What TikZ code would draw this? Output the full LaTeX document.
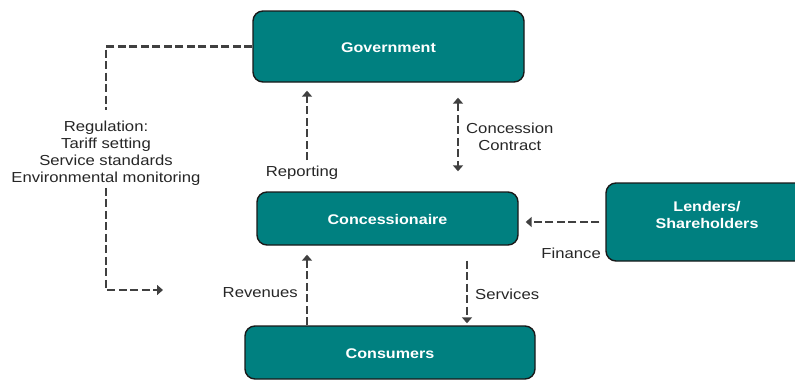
\documentclass[tikz,border=0pt]{standalone}
\usepackage{fontspec}
\setmainfont{Liberation Sans}[FakeStretch=1.15]
\usetikzlibrary{arrows.meta}
\definecolor{tealbox}{RGB}{0,128,128}
\definecolor{dashgrey}{RGB}{64,64,64}

\begin{document}
\begin{tikzpicture}[x=1pt, y=1pt, yscale=-1,
    >={Triangle[length=6pt,width=10pt]},
    box/.style={draw=black!90, line width=1.4pt, fill=tealbox, rounded corners=10pt, text=white, align=center, inner sep=0pt, text height=13pt, font=\bfseries\fontsize{14}{17}\selectfont},
    flow/.style={draw=dashgrey, line width=2.9pt, dash pattern=on 8pt off 3.5pt, ->},
    lbl/.style={text=black!85, align=center, inner sep=0pt, font=\fontsize{14.5}{17}\selectfont}]
    \useasboundingbox (0,0) rectangle (795,380) ;

    \node [box, minimum width=271pt, minimum height=71pt] (gov) at (388.5,46.5) {Government} ;
    \node [box, minimum width=261pt, minimum height=53pt] (conc) at (387.5,218.5) {Concessionaire} ;
    \node [box, minimum width=202pt, minimum height=78pt] (lend) at (707,222) {Lenders/\\Shareholders} ;
    \node [box, minimum width=290pt, minimum height=53pt] (cons) at (390,352.5) {Consumers} ;

    % regulation, round the left side
    \node [lbl, inner ysep=6.5pt] (reg) at (106,153) {Regulation:\\Tariff setting\\Service standards\\Environmental monitoring} ;
    \coordinate (regend) at (163,290) ;
    \draw [flow, -, shorten >=4pt] (gov.west) -| (reg.north) ;
    \draw [flow, shorten <=-4pt] (reg.south) |- (regend) ;

    \coordinate (repx) at (307,160) ;
    \node [lbl] (rep) at (302,173) {Reporting} ;
    \draw [flow, shorten >=8pt] (repx) -- (repx |- gov.south) ;

    \coordinate (ccx) at (458,0) ;
    \draw [flow, <->, shorten <=15pt, shorten >=20pt] (ccx |- gov.south) -- (ccx |- conc.north) ;
    \node [lbl, anchor=west] (cclbl) at (466,137) {Concession\\Contract} ;

    \draw [flow, shorten <=6pt, shorten >=7pt] (lend.west) -- (lend.west -| conc.east) ;
    \node [lbl, anchor=east] (fin) at (601,253.5) {Finance} ;

    \coordinate (svx) at (467,0) ;
    \draw [flow, shorten <=15pt, shorten >=2pt] (svx |- conc.south) -- (svx |- cons.north) ;
    \node [lbl, anchor=west] (svlbl) at (475,294.5) {Services} ;

    \coordinate (rvx) at (307,0) ;
    \draw [flow, shorten >=9pt] (rvx |- cons.north) -- (rvx |- conc.south) ;
    \node [lbl, anchor=east] (rvlbl) at (298,292.5) {Revenues} ;
\end{tikzpicture}
\end{document}
